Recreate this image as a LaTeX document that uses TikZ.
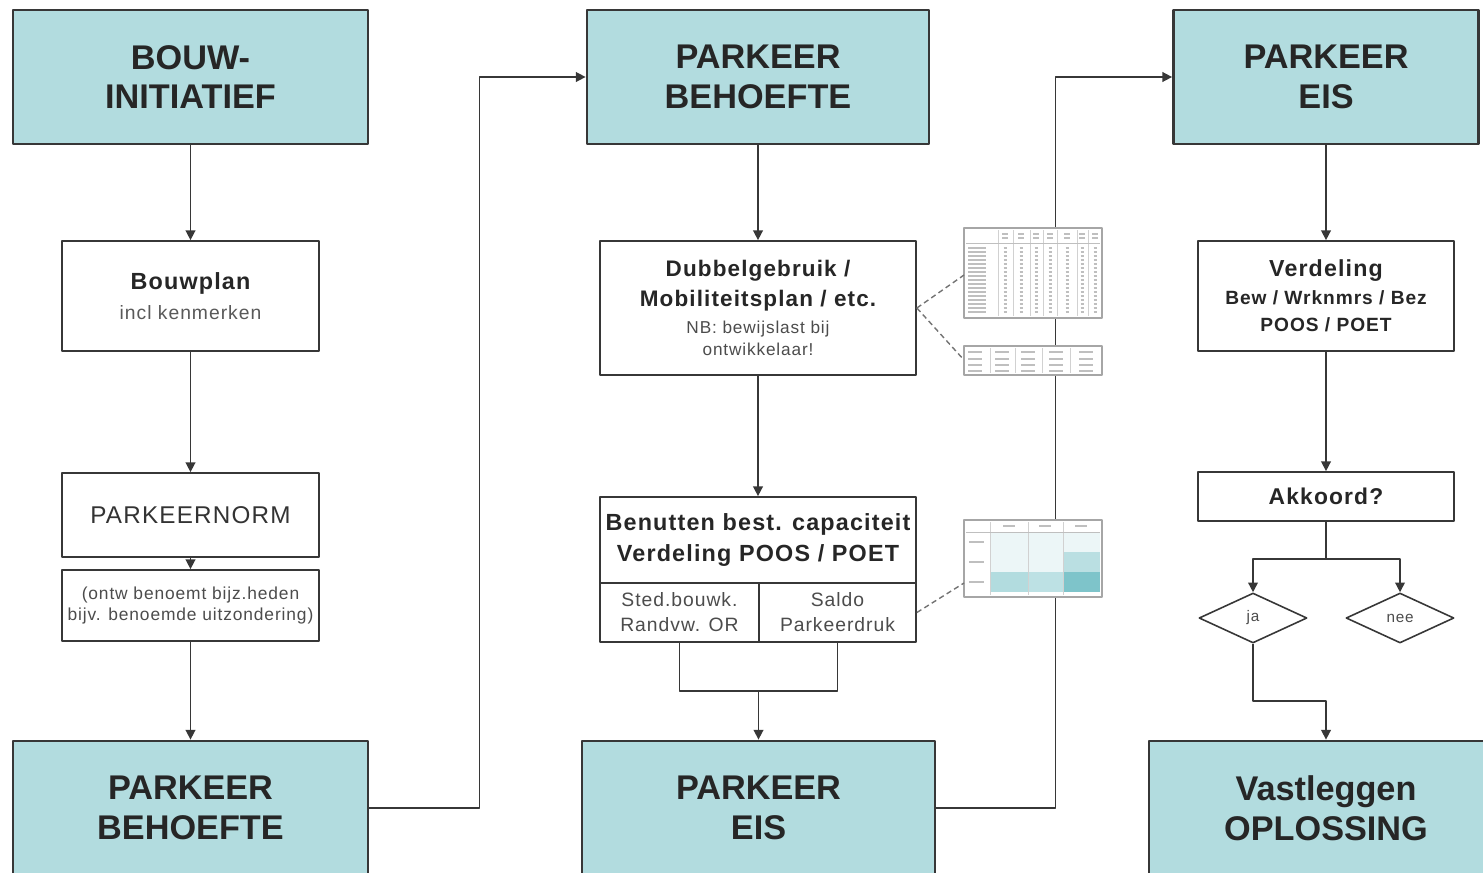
\documentclass[tikz,border=0pt]{standalone}
\usepackage{fontspec}
\setmainfont{Liberation Sans}
\newfontfamily\ruim{Liberation Sans}[LetterSpace=5]
\usetikzlibrary{arrows.meta,shapes.geometric,calc}
\definecolor{boxteal}{RGB}{178,220,223}
\definecolor{boxline}{RGB}{55,55,55}
\definecolor{darkteal}{RGB}{126,196,202}

\begin{document}
\begin{tikzpicture}[x=0.02cm, y=-0.02cm, line join=round,
    titlebox/.style={draw=boxline, line width=1.6pt, fill=boxteal, align=center, inner sep=0pt,
      font=\bfseries\fontsize{19.5}{22.7}\selectfont, text=black!85},
    stepbox/.style={draw=boxline, line width=1pt, fill=white, align=center, inner sep=0pt, text=black!85},
    keuze/.style={draw=boxline, line width=0.9pt, shape=diamond, inner sep=0pt,
      minimum width=2.16cm, minimum height=1cm, font=\ruim\fontsize{8.7}{10}\selectfont, text=black!70},
    arr/.style={-{Triangle[length=5.5pt,width=5.5pt]}, line width=0.85pt, draw=boxline},
    lijn/.style={line width=0.85pt, draw=boxline},
    stippel/.style={dash pattern=on 3pt off 2pt, line width=0.8pt, draw=black!55},
    thumb/.style={draw=black!35, line width=0.9pt, fill=white},
    grijs/.style={black!25, line width=0.8pt}]
    \useasboundingbox (0,0) rectangle (1483,872);
    \clip (0,0) rectangle (1483,872);

    % kolom 1
    \node[titlebox, minimum width=7.1cm, minimum height=2.68cm] (bouwinit) at (190.5,77) {BOUW-\\INITIATIEF};
    \node[stepbox, minimum width=5.14cm, minimum height=2.2cm, font=\ruim\fontsize{11}{17}\selectfont] (bouwplan) at (190.5,296)
      {\bfseries\fontsize{13.3}{17}\selectfont Bouwplan\\
       \color{black!65}incl kenmerken};
    \node[stepbox, minimum width=5.14cm, minimum height=1.68cm, text=black!80,
      font=\ruim\fontsize{13.8}{17}\selectfont] (norm) at (190.5,515) {PARKEERNORM};
    \node[stepbox, minimum width=5.14cm, minimum height=1.42cm, text=black!70,
      font=\ruim\fontsize{9.9}{12.5}\selectfont] (ontw) at (190.5,605.5)
      {(ontw benoemt bijz.heden\\bijv. benoemde uitzondering)};
    \node[titlebox, minimum width=7.1cm, minimum height=2.68cm] (behoefteL) at (190.5,808) {PARKEER\\BEHOEFTE};

    % kolom 2
    \node[titlebox, minimum width=6.84cm, minimum height=2.68cm] (behoefteM) at (758,77) {PARKEER\\BEHOEFTE};
    \node[stepbox, minimum width=6.32cm, minimum height=2.68cm, font=\ruim\fontsize{9.8}{13}\selectfont] (dubbel) at (758,308)
      {\bfseries\fontsize{12.8}{13}\selectfont Dubbelgebruik /\\[4pt]
       \bfseries\fontsize{12.8}{13}\selectfont Mobiliteitsplan / etc.\\[2.3pt]
       \color{black!70}NB: bewijslast bij\\
       \color{black!70}ontwikkelaar!};
    \node[stepbox, minimum width=6.32cm, minimum height=1.72cm,
      font=\ruim\bfseries\fontsize{13.3}{18}\selectfont] (benutten) at (758,540)
      {Benutten best. capaciteit\\Verdeling POOS / POET};
    \node[stepbox, minimum width=3.18cm, minimum height=1.18cm, text=black!70,
      font=\ruim\fontsize{11}{14.2}\selectfont] (stedbouw) at (679.5,612.5)
      {Sted.bouwk.\\Randvw. OR};
    \node[stepbox, minimum width=3.14cm, minimum height=1.18cm, text=black!70,
      font=\ruim\fontsize{11}{14.2}\selectfont] (saldo) at (837.5,612.5)
      {Saldo\\Parkeerdruk};
    \node[titlebox, minimum width=7.06cm, minimum height=2.68cm] (eisM) at (758.5,808) {PARKEER\\EIS};

    % kolom 3
    \node[titlebox, minimum width=6.1cm, minimum height=2.68cm] (eisR) at (1326,77) {PARKEER\\EIS};
    \node[stepbox, minimum width=5.12cm, minimum height=2.2cm, font=\ruim\bfseries\fontsize{10.9}{15.5}\selectfont] (verdeling) at (1326,296)
      {\fontsize{13.2}{15.5}\selectfont Verdeling\\
       Bew / Wrknmrs / Bez\\
       POOS / POET};
    \node[stepbox, minimum width=5.12cm, minimum height=0.98cm,
      font=\ruim\bfseries\fontsize{13}{16}\selectfont] (akkoord) at (1326,496.5) {Akkoord?};
    \node[keuze] (ja) at (1253,618) {ja};
    \node[keuze] (nee) at (1400,618) {nee};
    \node[titlebox, minimum width=7.08cm, minimum height=2.68cm] (oplossing) at (1326,808) {Vastleggen\\OPLOSSING};

    % verbindingen
    \draw[arr] (bouwinit) -- (bouwplan);
    \draw[arr] (bouwplan) -- (norm);
    \draw[arr] (norm) -- (ontw);
    \draw[arr] (ontw) -- (behoefteL);
    \draw[arr] (behoefteL.east) -- ++(110,0) |- (behoefteM.west);
    \draw[arr] (behoefteM) -- (dubbel);
    \draw[arr] (dubbel) -- (benutten);
    \coordinate (samen) at (758.5,691);
    \draw[lijn] (stedbouw.south) |- (samen) -| (saldo.south);
    \draw[arr] (samen) -- (eisM.north);
    \draw[arr] (eisM.east) -- ++(119,0) |- (eisR.west);
    \draw[arr] (eisR) -- (verdeling);
    \draw[arr] (verdeling) -- (akkoord);
    \draw[lijn] (akkoord.south) -- ++(0,37) coordinate (splits);
    \draw[arr] (splits) -| (ja.north);
    \draw[arr] (splits) -| (nee.north);
    \draw[arr] (ja.south) -- ++(0,57) -| (oplossing.north);

    % tabelletjes
    \draw[thumb] (964,228) rectangle (1102,318);
    \foreach \xc in {998,1013,1030,1043,1057,1077,1088}
      \draw[black!18, line width=0.3pt] (\xc,230) -- (\xc,316);
    \draw[black!25, line width=0.4pt] (966,243) -- (1100,243);
    \foreach \xc in {1005,1021,1036,1050,1067,1082,1095} {
      \draw[grijs] (\xc-3,234) -- (\xc+3,234);
      \draw[grijs] (\xc-3,238) -- (\xc+3,238);
    }
    \foreach \yr in {248,252,...,312} {
      \draw[grijs] (968,\yr) -- (986,\yr);
      \foreach \xc in {1005,1021,1036,1050,1067,1082,1095}
        \draw[grijs] (\xc-1.5,\yr) -- (\xc+1.5,\yr);
    }
    \draw[thumb] (964,346) rectangle (1102,375);
    \foreach \xc in {990,1015,1042,1070}
      \draw[black!18, line width=0.3pt] (\xc,348) -- (\xc,373);
    \foreach \yr in {352,359,365,371} {
      \draw[grijs] (968,\yr) -- (982,\yr);
      \foreach \xc in {1002,1028,1056,1086}
        \draw[grijs] (\xc-7,\yr) -- (\xc+7,\yr);
    }
    \draw[thumb] (964,520) rectangle (1102,597);
    \fill[boxteal!25] (990,532) rectangle (1100,552);
    \fill[boxteal!25] (990,552) rectangle (1063,572);
    \fill[boxteal!90] (1063,552) rectangle (1100,572);
    \fill[boxteal] (990,572) rectangle (1028,592);
    \fill[boxteal!85] (1028,572) rectangle (1063,592);
    \fill[darkteal] (1063,572) rectangle (1100,592);
    \foreach \xc in {990,1028,1063}
      \draw[black!18, line width=0.3pt] (\xc,522) -- (\xc,595);
    \draw[black!25, line width=0.4pt] (966,532) -- (1100,532);
    \foreach \xc in {1009,1045,1081}
      \draw[grijs] (\xc-6,526) -- (\xc+6,526);
    \foreach \yr in {542,562,582}
      \draw[grijs] (969,\yr) -- (984,\yr);

    % stippellijnen
    \draw[stippel] (dubbel.east) -- (964,275);
    \draw[stippel] (dubbel.east) -- (964,360);
    \draw[stippel] (saldo.east) -- (964,583);
\end{tikzpicture}
\end{document}
